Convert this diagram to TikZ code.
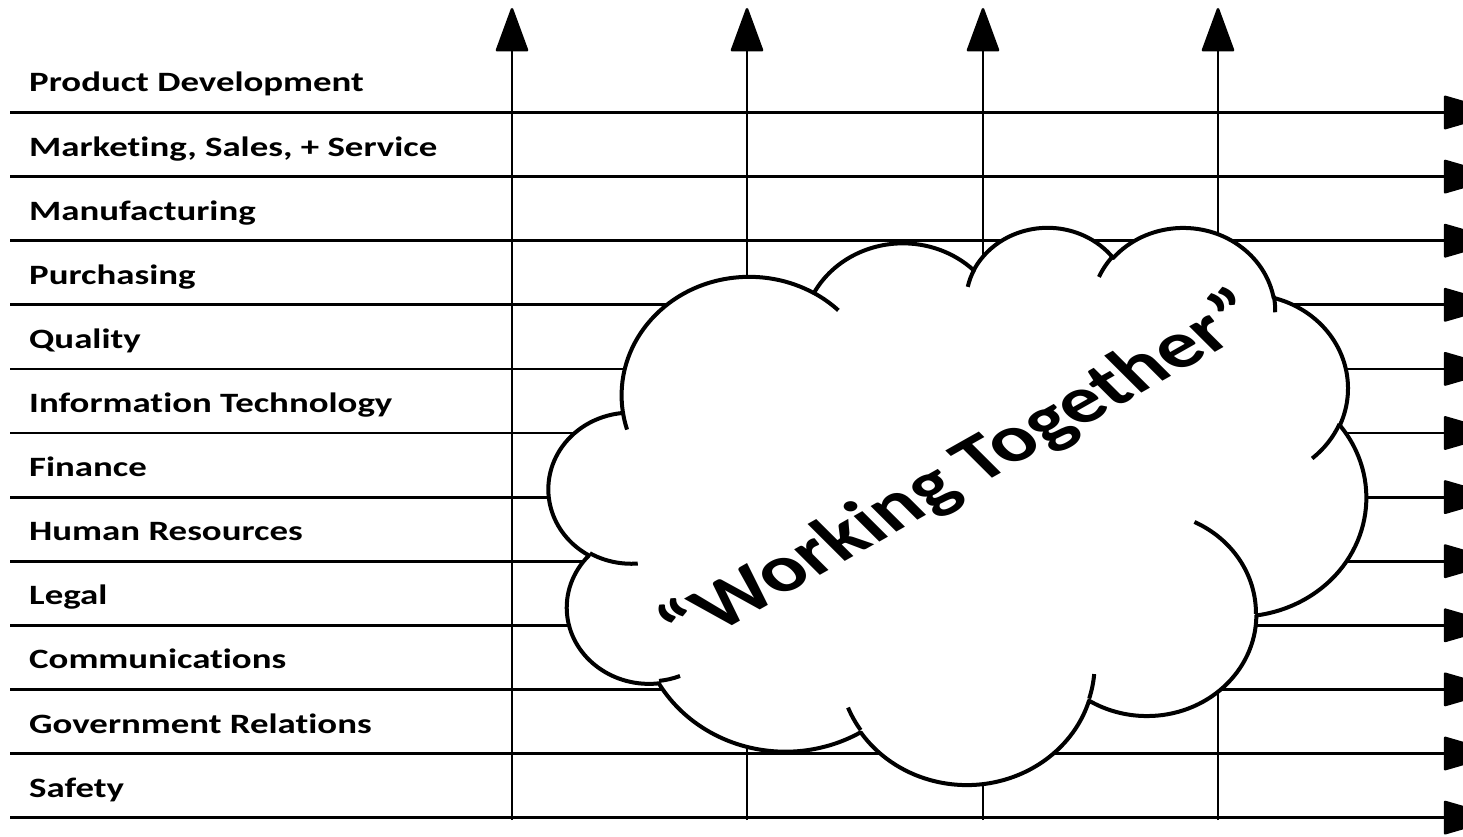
\documentclass[tikz,border=0pt]{standalone}
\usepackage{fontspec}
\usepackage{graphicx}
\setmainfont{Carlito}[Ligatures=CommonOff]
\usetikzlibrary{arrows.meta}
\newcommand\ooprep[5]{%
  \pgfmathsetmacro\ooa{#4}%
  \pgfmathsetmacro\oob{#4+#5}%
  \pgfmathsetmacro\ood{atan2((#2)*sin(\ooa),(#3)*cos(\ooa))-\ooa}%
  \pgfmathsetmacro\ood{\ood-360*round(\ood/360)}%
  \pgfmathsetmacro\ooS{\ooa+\ood}%
  \pgfmathsetmacro\ood{atan2((#2)*sin(\oob),(#3)*cos(\oob))-\oob}%
  \pgfmathsetmacro\ood{\ood-360*round(\ood/360)}%
  \pgfmathsetmacro\ooE{\oob+\ood}%
  \expandafter\let\csname #1S\endcsname\ooS
  \expandafter\let\csname #1E\endcsname\ooE
}
\ooprep{mA}{6.753}{9.190}{-190.4875}{123.7805}
\ooprep{mB}{5.333}{7.267}{-144.1024}{89.9452}
\ooprep{mC}{4.365}{5.945}{-145.8079}{99.7230}
\ooprep{mD}{4.857}{6.595}{-130.9861}{117.2417}
\ooprep{mE}{5.333}{7.273}{-78.7089}{109.0269}
\ooprep{mF}{6.775}{9.220}{-46.2673}{130.2690}
\ooprep{mG}{5.785}{7.867}{0.6250}{114.0333}
\ooprep{mH}{6.752}{9.215}{22.4516}{115.1726}
\ooprep{mI}{7.720}{10.543}{66.2426}{75.7110}
\ooprep{mJ}{4.360}{5.918}{-274.9421}{146.7356}
\ooprep{mK}{4.345}{5.945}{-246.8285}{152.5189}
\ooprep{iA}{4.345}{5.945}{86.742}{26.4295}
\ooprep{iB}{4.360}{5.918}{73.6105}{11.4475}
\ooprep{iC}{6.752}{9.215}{137.6242}{14.0811}
\ooprep{iD}{6.752}{9.215}{6.4533}{15.9984}
\ooprep{iE}{5.785}{7.867}{-70.2924}{70.9174}
\ooprep{iF}{5.333}{7.273}{30.318}{27.7515}
\ooprep{iG}{4.857}{6.595}{-13.7443}{14.8589}
\ooprep{iH}{4.857}{6.595}{-149.1815}{18.1954}
\ooprep{iI}{4.365}{5.945}{-163.4943}{17.6864}
\ooprep{iJ}{6.753}{9.190}{-66.7070}{12.3194}
\ooprep{iK}{6.753}{9.190}{157.6544}{11.8582}
\begin{document}
\begin{tikzpicture}[x=1pt,y=1pt,yscale=-1,
  hline/.style={line width=2.8pt,-{Triangle[length=60pt,width=34pt,round]}},
  vline/.style={line width=2.6pt,-{Triangle[length=46pt,width=33pt,round]}},
  cloudline/.style={line width=4pt,line join=round},
  lbl/.style={anchor=base west,inner sep=0pt,font=\bfseries\fontsize{28}{30}\selectfont},
  cloudtext/.style={inner sep=0pt,transform shape,rotate=37,font=\bfseries\fontsize{66}{75}\selectfont}]
\useasboundingbox (0,0) rectangle (1463,837);
\clip (0,0) rectangle (1463,837);
% horizontal lines
\foreach \i in {1,...,12}{
  \pgfmathsetmacro\yy{112.5+64.1*(\i-1)}
  \coordinate (hs\i) at (10,\yy);
  \coordinate (he\i) at (1500,\yy);
  \draw[hline] (hs\i) -- (he\i);
}
% vertical lines
\foreach \x [count=\j] in {512,747,983,1218}{
  \coordinate (vs\j) at (\x,820);
  \coordinate (ve\j) at (\x,8);
  \draw[vline] (vs\j) -- (ve\j);
}
% labels
\foreach \t [count=\i] in {Product Development,{Marketing, Sales, + Service},Manufacturing,Purchasing,Quality,Information Technology,Finance,Human Resources,Legal,Communications,Government Relations,Safety}{
  \pgfmathsetmacro\yy{112.5+64.1*(\i-1)-20.5}
  \node[lbl] (lab\i) at (29,\yy) {\scalebox{1.316}[1]{\t}};
}
% cloud
\begin{scope}[shift={(549,226)},xscale=18.912,yscale=12.894]
\path[draw,fill=white,cloudline] (3.900,14.370)
  arc[x radius=6.753pt, y radius=9.190pt, start angle=\mAS, end angle=\mAE]
  arc[x radius=5.333pt, y radius=7.267pt, start angle=\mBS, end angle=\mBE]
  arc[x radius=4.365pt, y radius=5.945pt, start angle=\mCS, end angle=\mCE]
  arc[x radius=4.857pt, y radius=6.595pt, start angle=\mDS, end angle=\mDE]
  arc[x radius=5.333pt, y radius=7.273pt, start angle=\mES, end angle=\mEE]
  arc[x radius=6.775pt, y radius=9.220pt, start angle=\mFS, end angle=\mFE]
  arc[x radius=5.785pt, y radius=7.867pt, start angle=\mGS, end angle=\mGE]
  arc[x radius=6.752pt, y radius=9.215pt, start angle=\mHS, end angle=\mHE]
  arc[x radius=7.720pt, y radius=10.543pt, start angle=\mIS, end angle=\mIE]
  arc[x radius=4.360pt, y radius=5.918pt, start angle=\mJS, end angle=\mJE]
  arc[x radius=4.345pt, y radius=5.945pt, start angle=\mKS, end angle=\mKE]
  -- cycle;
\draw[cloudline,line cap=butt]
  (4.693,26.177) arc[x radius=4.345pt, y radius=5.945pt, start angle=\iAS, end angle=\iAE]
  (6.928,34.899) arc[x radius=4.360pt, y radius=5.918pt, start angle=\iBS, end angle=\iBE]
  (16.478,39.090) arc[x radius=6.752pt, y radius=9.215pt, start angle=\iCS, end angle=\iCE]
  (28.827,34.751) arc[x radius=6.752pt, y radius=9.215pt, start angle=\iDS, end angle=\iDE]
  (34.129,22.954) arc[x radius=5.785pt, y radius=7.867pt, start angle=\iES, end angle=\iEE]
  (41.798,15.354) arc[x radius=5.333pt, y radius=7.273pt, start angle=\iFS, end angle=\iFE]
  (38.324,5.426) arc[x radius=4.857pt, y radius=6.595pt, start angle=\iGS, end angle=\iGE]
  (29.078,3.952) arc[x radius=4.857pt, y radius=6.595pt, start angle=\iHS, end angle=\iHE]
  (22.141,4.720) arc[x radius=4.365pt, y radius=5.945pt, start angle=\iIS, end angle=\iIE]
  (14.000,5.192) arc[x radius=6.753pt, y radius=9.190pt, start angle=\iJS, end angle=\iJE]
  (4.127,15.789) arc[x radius=6.753pt, y radius=9.190pt, start angle=\iKS, end angle=\iKE];
\end{scope}
\begin{scope}[shift={(963,471)},yscale=-1,xscale=1.333]
\node[cloudtext] (wt) at (0,0) {“Working Together”};
\end{scope}
\end{tikzpicture}
\end{document}
